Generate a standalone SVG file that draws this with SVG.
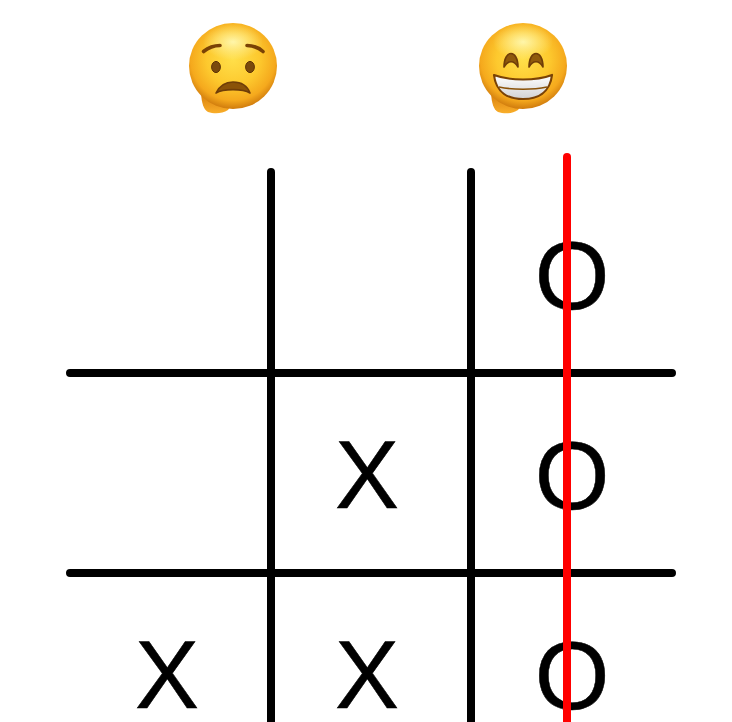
<svg xmlns="http://www.w3.org/2000/svg" width="732" height="722" viewBox="0 0 732 722">
<style>
.mark{font-family:"Liberation Sans",Arial,sans-serif;font-size:96px;fill:#000;stroke:#000;stroke-width:.5;text-anchor:middle}
.g{stroke:#000;stroke-width:8;stroke-linecap:round;fill:none}
.win{stroke:#f00;stroke-width:8;stroke-linecap:round;fill:none}
.brow{fill:none;stroke:#7a4205;stroke-width:3.6;stroke-linecap:round}
.eye{fill:#7a4a0c;stroke:#5f3406;stroke-width:1}
.arch{fill:#8f5a0c;stroke:#6f3d08;stroke-width:1.6;stroke-linejoin:round}
</style>
<defs>
<radialGradient id="face" cx="50%" cy="42%" r="60%">
<stop offset="0" stop-color="#ffdf4a"/><stop offset=".5" stop-color="#fdc92e"/><stop offset=".8" stop-color="#f5a91d"/><stop offset="1" stop-color="#c8720a"/>
</radialGradient>
<radialGradient id="shine" cx="50%" cy="50%" r="50%">
<stop offset="0" stop-color="#fff8b0" stop-opacity=".95"/><stop offset="1" stop-color="#fff3a0" stop-opacity="0"/>
</radialGradient>
<linearGradient id="bump" x1="0" y1="0" x2="0" y2="1"><stop offset="0" stop-color="#d9800c"/><stop offset="1" stop-color="#f9ae2a"/></linearGradient>
<linearGradient id="teeth" x1="0" y1="0" x2="0" y2="1"><stop offset="0" stop-color="#fff"/><stop offset="1" stop-color="#d2d2d2"/></linearGradient>
<g id="head">
<path d="M201 94C202 103 203 109 208 112C214 114 222 114 228 110L235 100Z" fill="url(#bump)"/>
<ellipse cx="233" cy="66" rx="44" ry="43" fill="url(#face)"/>
<ellipse cx="233" cy="42" rx="30" ry="18" fill="url(#shine)"/>
</g>
</defs>
<rect width="732" height="722" fill="#fff"/>
<g id="emoji-sad">
<use href="#head"/>
<path d="M203.500 51.500Q211 45.500 220 45.500" class="brow"/>
<path d="M247 45.500Q256 45.500 263 51.500" class="brow"/>
<ellipse class="eye" cx="216" cy="67" rx="4.400" ry="5.600"/>
<ellipse class="eye" cx="250" cy="67" rx="4.400" ry="5.600"/>
<path d="M216 93C220 85 226 82 233 82C240 82 247 85 250 93C243 88.500 223 88.500 216 93Z" fill="#8a5208" stroke="#6f3d08" stroke-width="1.6" stroke-linejoin="round"/>
</g>
<g id="emoji-grin">
<use href="#head" x="290"/>
<path class="arch" d="M504 67C504 49 518 49 518 67C514 60 508 60 504 67Z"/>
<path class="arch" d="M529 67C529 49 543 49 543 67C539 60 533 60 529 67Z"/>
<path d="M494 75C510 81 536 81 552 75C550 93 537 99 523 99C509 99 496 93 494 75Z" fill="url(#teeth)" stroke="#7a4205" stroke-width="2.200" stroke-linejoin="round"/>
<path d="M499 87C513 90 533 90 547 87" fill="none" stroke="#8a5208" stroke-width="1.600"/>
</g>
<g id="grid">
<path class="g" d="M271 172V726M471 172V726M70 373H672M70 573H672"/>
</g>
<g id="marks">
<text class="mark" x="572" y="309">O</text>
<text class="mark" x="367" y="508">X</text>
<text class="mark" x="572" y="509">O</text>
<text class="mark" x="167" y="708">X</text>
<text class="mark" x="367" y="708">X</text>
<text class="mark" x="572" y="709">O</text>
</g>
<g id="connectors">
<path class="win" d="M567 157V726"/>
</g>
</svg>
